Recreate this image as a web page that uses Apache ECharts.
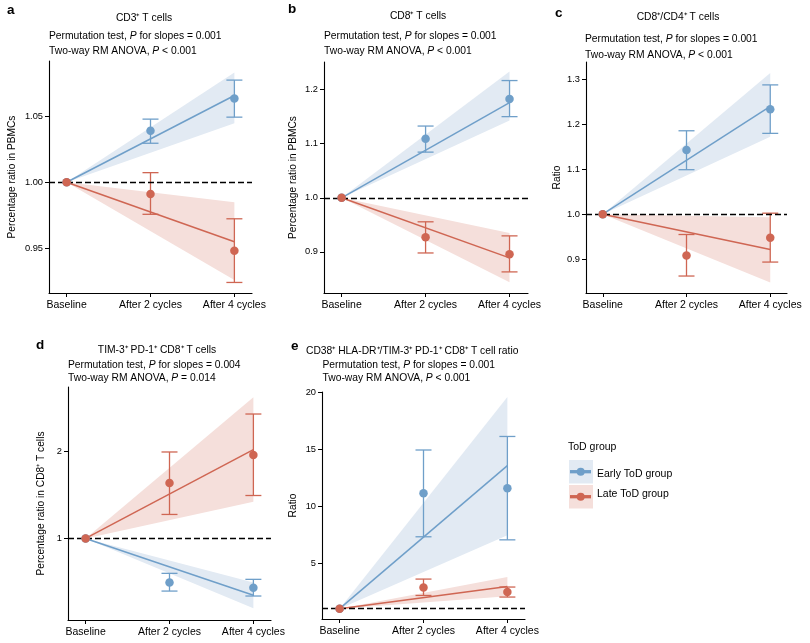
<!DOCTYPE html>
<html>
<head>
<meta charset="utf-8">
<script src="https://cdn.jsdelivr.net/npm/echarts@6/dist/echarts.min.js"></script>
<style>
html,body{margin:0;padding:0;background:#fff;}
#chart{width:810px;height:643px;}
</style>
</head>
<body>
<div id="chart"></div>
<script>
// ---------------- data ----------------
const categories = ['Baseline', 'After 2 cycles', 'After 4 cycles'];

// panel a: CD3+ T cells
const aEarlyMean = [1, 1.039, 1.0635];
const aEarlyLow  = [1.0296, 1.0494];
const aEarlyHigh = [1.0479, 1.0775];
const aEarlyFit  = [1, 1.0658];
const aEarlyBand = [1.0448, 1.0833];
const aLateMean  = [1, 0.9911, 0.948];
const aLateLow   = [0.9757, 0.924];
const aLateHigh  = [1.0073, 0.9723];
const aLateFit   = [1, 0.9549];
const aLateBand  = [0.9258, 0.9848];
const aTicks = [0.95, 1.00, 1.05];

// panel b: CD8+ T cells
const bEarlyMean = [1, 1.1093, 1.1826];
const bEarlyLow  = [1.0844, 1.15];
const bEarlyHigh = [1.1326, 1.2167];
const bEarlyFit  = [1, 1.176];
const bEarlyBand = [1.143, 1.2333];
const bLateMean  = [1, 0.927, 0.8956];
const bLateLow   = [0.898, 0.863];
const bLateHigh  = [0.9556, 0.9296];
const bLateFit   = [1, 0.889];
const bLateBand  = [0.8437, 0.935];
const bTicks = [0.9, 1.0, 1.1, 1.2];

// panel c: CD8+/CD4+ T cells
const cEarlyMean = [1, 1.1429, 1.234];
const cEarlyLow  = [1.0991, 1.18];
const cEarlyHigh = [1.1858, 1.288];
const cEarlyFit  = [1, 1.24];
const cEarlyBand = [1.1724, 1.3147];
const cLateMean  = [1, 0.908, 0.9473];
const cLateLow   = [0.8622, 0.8933];
const cLateHigh  = [0.9547, 1.0022];
const cLateFit   = [1, 0.9213];
const cLateBand  = [0.848, 0.993];
const cTicks = [0.9, 1.0, 1.1, 1.2, 1.3];

// panel d: TIM-3+ PD-1+ CD8+ T cells
const dEarlyMean = [1, 0.494, 0.432];
const dEarlyLow  = [0.394, 0.337];
const dEarlyHigh = [0.598, 0.529];
const dEarlyFit  = [1, 0.345];
const dEarlyBand = [0.195, 0.494];
const dLateMean  = [1, 1.639, 1.961];
const dLateLow   = [1.276, 1.494];
const dLateHigh  = [1.995, 2.432];
const dLateFit   = [1, 2.023];
const dLateBand  = [1.421, 2.624];
const dTicks = [1, 2];

// panel e: CD38+ HLA-DR+/TIM-3+ PD-1+ CD8+ T cell ratio
const eEarlyMean = [1, 11.14, 11.58];
const eEarlyLow  = [7.32, 7.05];
const eEarlyHigh = [14.95, 16.14];
const eEarlyFit  = [1, 13.57];
const eEarlyBand = [7.46, 19.6];
const eLateMean  = [1, 2.86, 2.46];
const eLateLow   = [2.16, 2.02];
const eLateHigh  = [3.6, 2.9];
const eLateFit   = [1, 2.95];
const eLateBand  = [2.1, 3.79];
const eTicks = [5, 10, 15, 20];

const referenceLine = 1;

// ---------------- styling ----------------
const FONT = "'Liberation Sans', Arial, Helvetica, sans-serif";
const BLUE = '#6f9fc9', RED = '#cf6653';
const BLUE_BAND = '#e2eaf3', RED_BAND = '#f5dfdb';

const panels = [
  {grid:{left:49, top:61, width:203, height:232}, ymin:0.916, ymax:1.092, xmin:-0.21, xmax:2.21,
   ticks:aTicks, dec:2, name:'Percentage ratio in PBMCs', nameGap:32,
   early:[aEarlyMean,aEarlyLow,aEarlyHigh,aEarlyFit,aEarlyBand], late:[aLateMean,aLateLow,aLateHigh,aLateFit,aLateBand]},
  {grid:{left:324, top:62, width:204, height:231}, ymin:0.824, ymax:1.251, xmin:-0.21, xmax:2.22,
   ticks:bTicks, dec:1, name:'Percentage ratio in PBMCs', nameGap:26,
   early:[bEarlyMean,bEarlyLow,bEarlyHigh,bEarlyFit,bEarlyBand], late:[bLateMean,bLateLow,bLateHigh,bLateFit,bLateBand]},
  {grid:{left:586, top:62, width:201, height:231}, ymin:0.8244, ymax:1.339, xmin:-0.2, xmax:2.2,
   ticks:cTicks, dec:1, name:'Ratio', nameGap:24,
   early:[cEarlyMean,cEarlyLow,cEarlyHigh,cEarlyFit,cEarlyBand], late:[cLateMean,cLateLow,cLateHigh,cLateFit,cLateBand]},
  {grid:{left:68, top:387, width:203, height:233}, ymin:0.061, ymax:2.743, xmin:-0.21, xmax:2.21,
   ticks:dTicks, dec:0, name:'Percentage ratio in CD8⁺ T cells', nameGap:22,
   early:[dEarlyMean,dEarlyLow,dEarlyHigh,dEarlyFit,dEarlyBand], late:[dLateMean,dLateLow,dLateHigh,dLateFit,dLateBand]},
  {grid:{left:322, top:392, width:203, height:227}, ymin:0.09, ymax:20.05, xmin:-0.21, xmax:2.21,
   ticks:eTicks, dec:0, name:'Ratio', nameGap:24,
   early:[eEarlyMean,eEarlyLow,eEarlyHigh,eEarlyFit,eEarlyBand], late:[eLateMean,eLateLow,eLateHigh,eLateFit,eLateBand]}
];

const grids = [], xAxes = [], yAxes = [], series = [];

function bandRender(color){
  return function(params, api){
    const p0 = api.coord([api.value(0), api.value(1)]);
    const p1 = api.coord([2, api.value(3)]);
    const p2 = api.coord([2, api.value(2)]);
    return {type:'polygon', shape:{points:[p0,p1,p2]}, style:{fill:color}};
  };
}
function errRender(color){
  return function(params, api){
    const x = api.value(0);
    const top = api.coord([x, api.value(2)]);
    const bot = api.coord([x, api.value(1)]);
    const w = 8;
    const st = {stroke:color, lineWidth:1.3, fill:null};
    return {type:'group', children:[
      {type:'line', shape:{x1:top[0], y1:top[1], x2:bot[0], y2:bot[1]}, style:st},
      {type:'line', shape:{x1:top[0]-w, y1:top[1], x2:top[0]+w, y2:top[1]}, style:st},
      {type:'line', shape:{x1:bot[0]-w, y1:bot[1], x2:bot[0]+w, y2:bot[1]}, style:st}
    ]};
  };
}

function addGroup(i, grp, color, bandColor, zOff){
  const [mean, low, high, fit, band] = grp;
  series.push({type:'custom', xAxisIndex:i, yAxisIndex:i, z:1+zOff, silent:true,
    renderItem:bandRender(bandColor), encode:{x:0, y:1},
    data:[[0, fit[0], band[0], band[1]]]});
  series.push({type:'line', xAxisIndex:i, yAxisIndex:i, z:3+zOff, symbol:'none', silent:true,
    lineStyle:{color:color, width:1.5}, data:[[0, fit[0]], [2, fit[1]]]});
  series.push({type:'custom', xAxisIndex:i, yAxisIndex:i, z:4+zOff, silent:true,
    renderItem:errRender(color), encode:{x:0, y:[1,2]},
    data:[[1, low[0], high[0]], [2, low[1], high[1]]]});
  series.push({type:'scatter', xAxisIndex:i, yAxisIndex:i, z:6+zOff, symbolSize:8.5, silent:true,
    itemStyle:{color:color, opacity:1}, data:mean.map((v,k)=>[k, v])});
}

panels.forEach((p, i) => {
  grids.push(Object.assign({containLabel:false}, p.grid));
  xAxes.push({type:'value', gridIndex:i, min:p.xmin, max:p.xmax, splitLine:{show:false},
    axisLine:{show:true, onZero:false, lineStyle:{color:'#000', width:1.1}},
    axisTick:{show:true, length:4, lineStyle:{color:'#000'}, customValues:[0,1,2]},
    axisLabel:{customValues:[0,1,2], formatter:(v)=>categories[Math.round(v)], color:'#000',
      fontSize:10.5, fontFamily:FONT, margin:7}});
  yAxes.push({type:'value', gridIndex:i, min:p.ymin, max:p.ymax, splitLine:{show:false},
    axisLine:{show:true, onZero:false, lineStyle:{color:'#000', width:1.1}},
    axisTick:{show:true, length:4, lineStyle:{color:'#000'}, customValues:p.ticks},
    axisLabel:{customValues:p.ticks, formatter:(v)=>Number(v).toFixed(p.dec), color:'#000',
      fontSize:9.3, fontFamily:FONT, margin:6},
    name:p.name, nameLocation:'middle', nameGap:p.nameGap,
    nameTextStyle:{color:'#000', fontSize:10.2, fontFamily:FONT}});
  // reference line
  series.push({type:'line', xAxisIndex:i, yAxisIndex:i, z:2, data:[], silent:true,
    markLine:{silent:true, symbol:'none', animation:false, label:{show:false},
      lineStyle:{color:'#000', type:[6,3], width:1.3},
      data:[{yAxis:referenceLine}]}});
  addGroup(i, p.early, BLUE, BLUE_BAND, 0);
  addGroup(i, p.late, RED, RED_BAND, 0.5);
});

// ---------------- texts ----------------
const richBase = {
  n:{fontSize:10.3, fontFamily:FONT, fill:'#000'},
  i:{fontSize:10.3, fontFamily:FONT, fill:'#000', fontStyle:'italic'}
};
function txt(x, y, text, opts){
  opts = opts || {};
  return {type:'text', x:x, y:y, silent:true, style:Object.assign({
    text:text, fontSize:10.3, fontFamily:FONT, fill:'#000',
    textAlign:opts.align||'left', align:opts.align||'left',
    textVerticalAlign:'middle', verticalAlign:'middle', rich:richBase}, opts.style||{})};
}
function sub1(p){ return '{n|Permutation test, }{i|P}{n| for slopes = ' + p + '}'; }
function sub2(op, p){ return '{n|Two-way RM ANOVA, }{i|P}{n| ' + op + ' ' + p + '}'; }
const bold = {fontWeight:'bold', fontSize:13.5};

const graphics = [
  txt(7, 10, 'a', {style:bold}),
  txt(144, 18, 'CD3⁺ T cells', {align:'center'}),
  txt(49, 36, sub1('0.001')),
  txt(49, 51, sub2('<', '0.001')),

  txt(288, 9, 'b', {style:bold}),
  txt(418, 16, 'CD8⁺ T cells', {align:'center'}),
  txt(324, 36, sub1('0.001')),
  txt(324, 51, sub2('<', '0.001')),

  txt(555, 13, 'c', {style:bold}),
  txt(678, 17, 'CD8⁺/CD4⁺ T cells', {align:'center'}),
  txt(585, 39, sub1('0.001')),
  txt(585, 55, sub2('<', '0.001')),

  txt(36, 345, 'd', {style:bold}),
  txt(157, 350, 'TIM-3⁺ PD-1⁺ CD8⁺ T cells', {align:'center'}),
  txt(68, 365, sub1('0.004')),
  txt(68, 378.5, sub2('=', '0.014')),

  txt(291, 346, 'e', {style:bold}),
  txt(306, 351, 'CD38⁺ HLA-DR⁺/TIM-3⁺ PD-1⁺ CD8⁺ T cell ratio'),
  txt(322.5, 365, sub1('0.001')),
  txt(322.5, 378.5, sub2('<', '0.001')),

  // legend
  txt(568, 447, 'ToD group', {style:{fontSize:10.5}}),
  {type:'rect', shape:{x:569, y:460, width:24, height:23.5}, style:{fill:BLUE_BAND}, silent:true},
  {type:'line', shape:{x1:570, y1:471.7, x2:591, y2:471.7}, style:{stroke:BLUE, lineWidth:3.3}, silent:true},
  {type:'circle', shape:{cx:580.7, cy:471.7, r:4}, style:{fill:BLUE}, silent:true},
  txt(597, 474, 'Early ToD group', {style:{fontSize:10.5}}),
  {type:'rect', shape:{x:569, y:485, width:24, height:23.5}, style:{fill:RED_BAND}, silent:true},
  {type:'line', shape:{x1:570, y1:496.7, x2:591, y2:496.7}, style:{stroke:RED, lineWidth:3.3}, silent:true},
  {type:'circle', shape:{cx:580.7, cy:496.7, r:4}, style:{fill:RED}, silent:true},
  txt(597, 494.5, 'Late ToD group', {style:{fontSize:10.5}})
];

const chart = echarts.init(document.getElementById('chart'), null, {renderer:'canvas'});
chart.setOption({
  backgroundColor:'#fff',
  animation:false,
  grid:grids, xAxis:xAxes, yAxis:yAxes, series:series,
  graphic:{elements:graphics}
});
</script>
</body>
</html>
